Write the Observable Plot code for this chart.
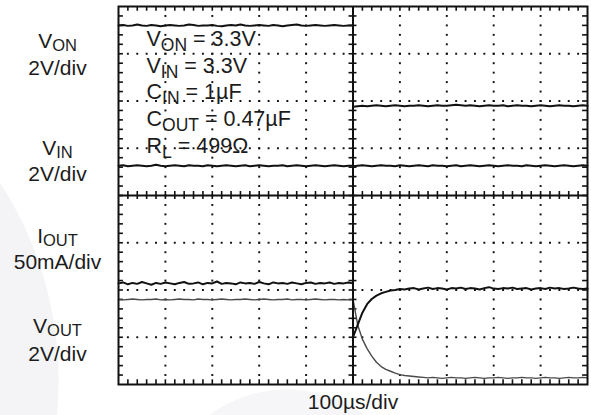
<!DOCTYPE html>
<html>
<head>
<meta charset="utf-8">
<script src="https://cdn.jsdelivr.net/npm/d3@7"></script>
<script src="https://cdn.jsdelivr.net/npm/@observablehq/plot@0.6"></script>
<style>
  html, body { margin: 0; padding: 0; background: #fff; }
  #wrap {
    position: relative; width: 591px; height: 415px; overflow: hidden;
    background:
      radial-gradient(circle at -303px 380px, #f4f4f7 361px, rgba(255,255,255,0) 362px),
      radial-gradient(circle at 287px 520px, #f6f6f8 130px, rgba(255,255,255,0) 131px),
      #fff;
  }
  #wrap svg { display: block; }
</style>
</head>
<body>
<div id="wrap"></div>
<script>
// ---- Data (vertical values in scope divisions, centre = 0; time in µs) ----
const tLeft = [-500,-490,-480,-470,-460,-450,-440,-430,-420,-410,-400,-390,-380,-370,-360,-350,-340,-330,-320,-310,-300,-290,-280,-270,-260,-250,-240,-230,-220,-210,-200,-190,-180,-170,-160,-150,-140,-130,-120,-110,-100,-90,-80,-70,-60,-50,-40,-30,-20,-10,0];
const tRight = [0,10,20,30,40,50,60,70,80,90,100,110,120,130,140,150,160,170,180,190,200,210,220,230,240,250,260,270,280,290,300,310,320,330,340,350,360,370,380,390,400,410,420,430,440,450,460,470,480,490,500];

const vonLeft = [3.60,3.61,3.59,3.60,3.62,3.60,3.59,3.61,3.60,3.58,
  3.60,3.61,3.60,3.59,3.60,3.62,3.61,3.59,3.60,3.60,
  3.61,3.59,3.58,3.60,3.61,3.60,3.62,3.60,3.59,3.60,
  3.61,3.60,3.59,3.61,3.60,3.58,3.60,3.61,3.62,3.60,
  3.59,3.60,3.61,3.60,3.59,3.60,3.61,3.60,3.59,3.60,3.60];
const vonRight = [1.88,1.89,1.90,1.89,1.90,1.91,1.90,1.89,1.90,1.91,
  1.90,1.89,1.90,1.90,1.91,1.90,1.89,1.90,1.91,1.90,
  1.90,1.91,1.92,1.91,1.90,1.91,1.90,1.89,1.90,1.91,
  1.90,1.90,1.91,1.89,1.90,1.91,1.90,1.90,1.89,1.90,
  1.91,1.90,1.89,1.90,1.91,1.90,1.90,1.89,1.90,1.91,1.90];

const vinLeft = [0.63,0.64,0.62,0.63,0.64,0.63,0.62,0.63,0.65,0.63,
  0.62,0.63,0.64,0.63,0.62,0.64,0.63,0.63,0.62,0.64,
  0.63,0.62,0.63,0.64,0.63,0.62,0.63,0.64,0.62,0.63,
  0.64,0.63,0.62,0.63,0.63,0.64,0.62,0.63,0.64,0.63,
  0.62,0.63,0.64,0.63,0.62,0.63,0.64,0.63,0.62,0.63,0.63];
const vinRight = [0.62,0.63,0.64,0.63,0.62,0.63,0.64,0.63,0.63,0.62,
  0.64,0.63,0.62,0.63,0.64,0.63,0.62,0.64,0.63,0.63,
  0.62,0.63,0.64,0.62,0.63,0.64,0.63,0.62,0.63,0.64,
  0.63,0.62,0.63,0.64,0.63,0.63,0.62,0.64,0.63,0.62,
  0.63,0.64,0.63,0.62,0.63,0.64,0.63,0.62,0.63,0.64,0.63];

const ioutLeft = [-1.86,-1.84,-1.88,-1.85,-1.87,-1.83,-1.86,-1.89,-1.85,-1.87,
  -1.84,-1.86,-1.88,-1.85,-1.83,-1.87,-1.86,-1.84,-1.88,-1.85,
  -1.86,-1.82,-1.87,-1.85,-1.86,-1.88,-1.84,-1.86,-1.85,-1.87,
  -1.83,-1.86,-1.88,-1.84,-1.86,-1.85,-1.87,-1.84,-1.86,-1.88,
  -1.85,-1.84,-1.87,-1.85,-1.86,-1.84,-1.87,-1.85,-1.86,-1.84,-1.86];
const ioutRight = [-3.00,-2.74,-2.48,-2.30,-2.19,-2.12,-2.07,-2.04,-2.01,-2.00,
  -1.98,-1.99,-1.97,-1.96,-1.99,-1.97,-1.95,-1.98,-1.96,-1.97,
  -1.99,-1.96,-1.97,-1.95,-1.98,-1.96,-1.97,-1.99,-1.96,-1.94,
  -1.97,-1.98,-1.96,-1.97,-1.95,-1.98,-1.97,-1.96,-1.99,-1.97,
  -1.96,-1.98,-1.95,-1.97,-1.96,-1.98,-1.97,-1.95,-1.97,-1.98,-1.97];

const voutLeft = [-2.20,-2.21,-2.20,-2.19,-2.20,-2.21,-2.20,-2.20,-2.19,-2.21,
  -2.20,-2.21,-2.20,-2.19,-2.20,-2.20,-2.21,-2.19,-2.20,-2.20,
  -2.21,-2.20,-2.19,-2.20,-2.21,-2.20,-2.20,-2.19,-2.20,-2.21,
  -2.20,-2.19,-2.20,-2.21,-2.20,-2.20,-2.19,-2.21,-2.20,-2.20,
  -2.21,-2.20,-2.19,-2.20,-2.21,-2.20,-2.20,-2.21,-2.20,-2.21,-2.20];
const voutRight = [-2.20,-2.74,-3.04,-3.24,-3.40,-3.53,-3.62,-3.68,-3.72,-3.76,
  -3.79,-3.81,-3.82,-3.83,-3.84,-3.85,-3.86,-3.85,-3.86,-3.87,
  -3.86,-3.85,-3.86,-3.86,-3.87,-3.86,-3.85,-3.86,-3.87,-3.86,
  -3.86,-3.85,-3.86,-3.87,-3.86,-3.86,-3.85,-3.86,-3.86,-3.87,
  -3.86,-3.85,-3.86,-3.86,-3.87,-3.86,-3.85,-3.86,-3.86,-3.85,-3.86];

const channelLabels = ["V{ON}", "2V/div", "V{IN}", "2V/div", "I{OUT}", "50mA/div", "V{OUT}", "2V/div"];
const conditions = ["V{ON} = 3.3V", "V{IN} = 3.3V", "C{IN} = 1µF", "C{OUT} = 0.47µF", "R{L} = 499Ω"];
const timeLabel = "100µs/div";

// Graticule divisions
const majorX = [-400, -300, -200, -100, 100, 200, 300, 400];
const majorY = [-3, -2, -1, 1, 2, 3];

// ---- Build tables ----
function trace(tl, vl, tr, vr) {
  return tl.map((t, i) => ({t, v: vl[i]})).concat(tr.map((t, i) => ({t, v: vr[i]})));
}
const von = trace(tLeft, vonLeft, tRight, vonRight);
const vin = trace(tLeft, vinLeft, tRight, vinRight);
const iout = trace(tLeft, ioutLeft, tRight, ioutRight);
const vout = trace(tLeft, voutLeft, tRight, voutRight);

const minorX = d3.range(-24, 25).map(i => i * 20);   // 20 µs minor steps
const minorY = d3.range(-19, 20).map(i => i / 5);     // 0.2 div minor steps
const gridDots = [];
for (const x of majorX) for (const y of minorY) gridDots.push({x, y});
for (const y of majorY) for (const x of minorX) gridDots.push({x, y});

const ink = "#111";
const txt = "#1c1c1c";
const font = "'Liberation Sans', Arial, Helvetica, sans-serif";

const leftBase = [47, 74, 154, 180, 242, 268, 332, 360];
const condBase = [45.5, 72, 98.7, 125.3, 152];

const chart = Plot.plot({
  width: 591,
  height: 415,
  marginLeft: 118,
  marginRight: 4,
  marginTop: 6,
  marginBottom: 31,
  x: {domain: [-500, 500], axis: null},
  y: {domain: [-4, 4], axis: null},
  style: {background: "transparent", fontFamily: font},
  marks: [
    Plot.frame({fill: "white", stroke: "none"}),
    Plot.dot(gridDots, {x: "x", y: "y", symbol: "square", r: 1.1, fill: ink, stroke: "none"}),
    // centre axes
    Plot.ruleX([0], {stroke: ink, strokeWidth: 2}),
    Plot.ruleY([0], {stroke: ink, strokeWidth: 2}),
    Plot.ruleX(minorX, {x: d => d, y1: -0.085, y2: 0.085, stroke: ink, strokeWidth: 1.6}),
    Plot.ruleY(minorY, {y: d => d, x1: -8.5, x2: 8.5, stroke: ink, strokeWidth: 1.6}),
    // frame ticks
    Plot.ruleX(minorX, {x: d => d, y1: -4, y2: -3.9, stroke: ink, strokeWidth: 1.6}),
    Plot.ruleX(minorX, {x: d => d, y1: 3.9, y2: 4, stroke: ink, strokeWidth: 1.6}),
    Plot.ruleY(minorY, {y: d => d, x1: -500, x2: -489.5, stroke: ink, strokeWidth: 1.6}),
    Plot.ruleY(minorY, {y: d => d, x1: 489.5, x2: 500, stroke: ink, strokeWidth: 1.6}),
    // traces
    Plot.line(vout, {x: "t", y: "v", stroke: "#4a4a4a", strokeWidth: 1.4}),
    Plot.line(vin, {x: "t", y: "v", stroke: ink, strokeWidth: 1.9}),
    Plot.line(von, {x: "t", y: "v", stroke: ink, strokeWidth: 2}),
    Plot.line(iout, {x: "t", y: "v", stroke: ink, strokeWidth: 2}),
    Plot.frame({stroke: ink, strokeWidth: 2}),
    // texts
    ...channelLabels.map((s, i) => Plot.text([s], {
      text: d => d, frameAnchor: "top-left", dx: -61, dy: leftBase[i] - 6,
      textAnchor: "middle", lineAnchor: "bottom", fontSize: 21, fill: txt,
      className: "lbl"
    })),
    ...conditions.map((s, i) => Plot.text([s], {
      text: d => d, frameAnchor: "top-left", dx: 28, dy: condBase[i] - 6,
      textAnchor: "start", lineAnchor: "bottom", fontSize: 21.5, fill: txt,
      className: "cond"
    })),
    Plot.text([timeLabel], {
      text: d => d, frameAnchor: "bottom", dy: 24,
      textAnchor: "middle", lineAnchor: "bottom", fontSize: 21, fill: txt
    })
  ]
});

// subscripts: "X{sub}" -> X with lowered smaller tspan
const NS = "http://www.w3.org/2000/svg";
chart.querySelectorAll("text").forEach(el => {
  const s = el.textContent;
  if (!s.includes("{")) return;
  const isCond = !!el.closest(".cond");
  const shift = isCond ? 5 : 3.5;
  const size = isCond ? "17.5" : "16.5";
  while (el.firstChild) el.removeChild(el.firstChild);
  const parts = s.split(/(\{[^}]*\})/);
  let down = false;
  for (const p of parts) {
    if (!p) continue;
    const ts = document.createElementNS(NS, "tspan");
    if (p.startsWith("{")) {
      ts.textContent = p.slice(1, -1);
      ts.setAttribute("font-size", size);
      ts.setAttribute("dy", String(shift));
      down = true;
    } else {
      ts.textContent = p;
      if (down) { ts.setAttribute("dy", String(-shift)); down = false; }
    }
    el.appendChild(ts);
  }
});

document.getElementById("wrap").appendChild(chart);
</script>
</body>
</html>
